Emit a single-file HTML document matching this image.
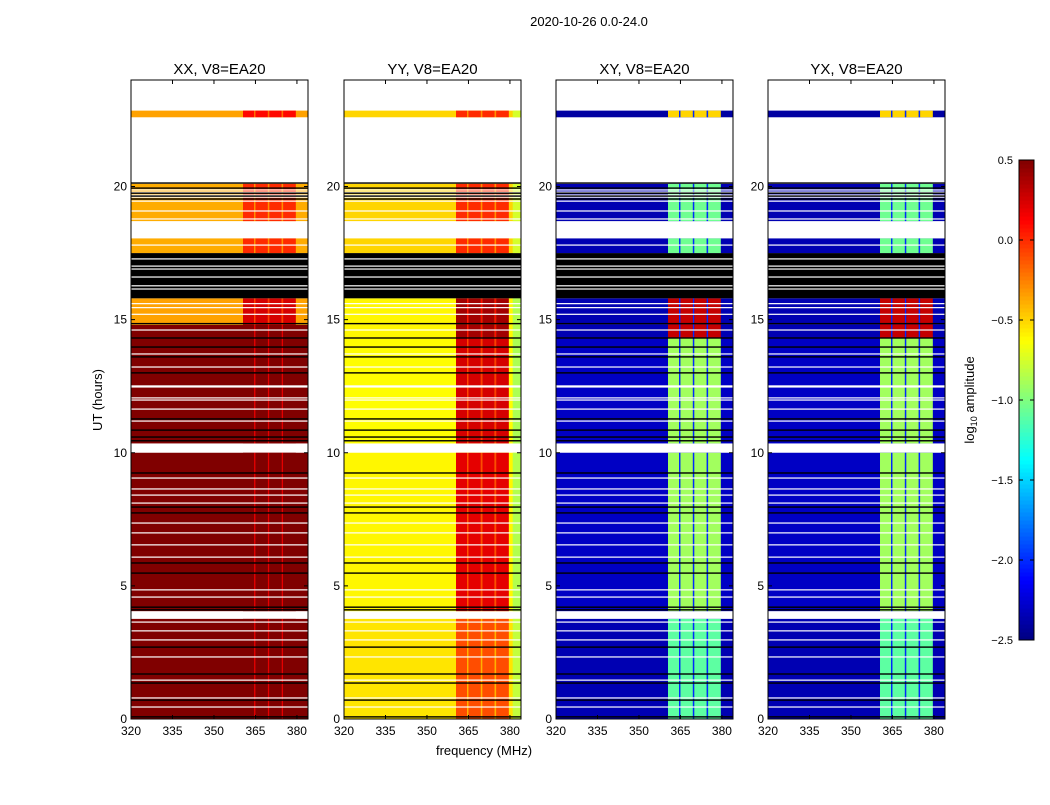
<!DOCTYPE html>
<html><head><meta charset="utf-8">
<style>
html,body{margin:0;padding:0;background:#fff;}
svg text{font-family:"Liberation Sans",sans-serif;fill:#000;}
</style></head>
<body>
<svg id="fig" width="1050" height="800" viewBox="0 0 1050 800" xmlns="http://www.w3.org/2000/svg">
<text x="589" y="26" font-size="13" text-anchor="middle">2020-10-26 0.0-24.0</text>
<text transform="translate(102,400) rotate(-90)" font-size="13" text-anchor="middle">UT (hours)</text>
<text x="484" y="755" font-size="13" text-anchor="middle">frequency (MHz)</text>
<g id="panels"></g>
<g id="cbar"></g>
<text transform="translate(974,400) rotate(-90)" font-size="13" text-anchor="middle">log<tspan font-size="9" dy="3">10</tspan><tspan dy="-3"> amplitude</tspan></text>
</svg>
<script>
// ---- data ----
const panelTitles = ["XX, V8=EA20","YY, V8=EA20","XY, V8=EA20","YX, V8=EA20"];
const xTicks = [320,335,350,365,380];
const yTicks = [0,5,10,15,20];
const cbTicks = [0.5,0.0,-0.5,-1.0,-1.5,-2.0,-2.5];
const cbTickLabels = ["0.5","0.0","\u22120.5","\u22121.0","\u22121.5","\u22122.0","\u22122.5"];
// time segments (hours)
const segStart = [0.0, 4.05, 10.35, 14.3, 14.8, 15.8, 17.5, 18.7, 22.6];
const segEnd   = [3.76, 10.0, 14.3, 14.8, 15.8, 17.5, 18.05, 20.1, 22.85];
const segFlag  = [0,0,0,0,0,1,0,0,0];
// baseline (off-band) log amplitude per panel per segment
const baseXX = [0.5, 0.5, 0.5, 0.5, -0.35, 0, -0.38, -0.38, -0.35];
const bandXX = [0.5, 0.5, 0.5, 0.5, 0.25, 0, 0.0, 0.0, 0.1];
const baseYY = [-0.55, -0.6, -0.62, -0.6, -0.6, 0, -0.5, -0.5, -0.5];
const bandYY = [-0.1, 0.2, 0.25, 0.4, 0.4, 0, 0.0, 0.0, 0.0];
const baseXY = [-2.35, -2.3, -2.3, -2.35, -2.35, 0, -2.35, -2.35, -2.4];
const bandXY = [-1.1, -0.9, -0.9, 0.3, 0.3, 0, -1.05, -1.05, -0.5];
const baseYX = [-2.35, -2.3, -2.3, -2.35, -2.35, 0, -2.35, -2.35, -2.4];
const bandYX = [-1.1, -0.9, -0.9, 0.3, 0.3, 0, -1.05, -1.05, -0.5];
// sub-band edges (MHz)
const subStart = [360.5, 365.0, 370.0, 375.0];
const subEnd   = [364.5, 369.5, 374.5, 379.6];
// thin flagged rows (hours)
const whiteLines = [0.45,0.79,1.46,2.33,2.97,3.31,3.64,4.58,4.85,6.08,6.54,6.99,7.36,8.11,8.41,8.64,9.05,
  11.19,11.64,11.98,12.06,12.47,12.51,13.22,13.71,14.61,15.2,15.45,15.6,16.15,16.27,16.6,16.9,17.01,17.28,
  17.8,18.78,19.08,19.45,19.6,19.68,19.79,19.87];
const blackLines = [0.08,0.71,1.35,1.69,2.7,4.1,4.2,5.48,5.86,7.74,7.96,9.24,10.45,10.59,10.85,11.27,
  13.0,13.6,13.97,14.31,14.85,19.53,19.64,19.75,19.94,20.13];

// ---- layout ----
const panelX = [131,344,556,768], PW=177, PT=80, PB=719;
const fMin=320, fMax=384, tMin=0, tMax=24;
function xs(p,f){return panelX[p]+(f-fMin)/(fMax-fMin)*PW;}
function ys(t){return PB-(t-tMin)/(tMax-tMin)*(PB-PT);}
function jet(v){
  let x=(v+2.5)/3; x=Math.max(0,Math.min(1,x));
  const c=t=>Math.round(255*Math.max(0,Math.min(1,t)));
  const r=c(1.5-Math.abs(4*x-3)), g=c(1.5-Math.abs(4*x-2)), b=c(1.5-Math.abs(4*x-1));
  return `rgb(${r},${g},${b})`;
}
const NS="http://www.w3.org/2000/svg";
function mk(tag,attrs,parent){const e=document.createElementNS(NS,tag);for(const k in attrs)e.setAttribute(k,attrs[k]);parent.appendChild(e);return e;}
const bases=[baseXX,baseYY,baseXY,baseYX], bands=[bandXX,bandYY,bandXY,bandYX];
const G=document.getElementById('panels');
for(let p=0;p<4;p++){
  const g=mk('g',{},G);
  
  
  for(let s=0;s<segStart.length;s++){
    const y0=ys(segEnd[s]), y1=ys(segStart[s]);
    if(segFlag[s]){
      const r=mk('rect',{x:panelX[p],y:y0,width:PW,height:y1-y0,fill:'#000'},g);
      
      
      continue;
    }
    const b=bases[p][s], bd=bands[p][s];
    const r=mk('rect',{x:panelX[p],y:y0,width:PW,height:y1-y0,fill:jet(b)},g);
    
    
    if(p==1){
      const e1=mk('rect',{x:xs(p,381),y:y0,width:xs(p,384)-xs(p,381),height:y1-y0,fill:jet(b-0.25)},g);
      
      
    }
    for(let k=0;k<subStart.length;k++){
      const c=mk('rect',{x:xs(p,subStart[k]),y:y0,width:xs(p,subEnd[k])-xs(p,subStart[k]),height:y1-y0,fill:jet(bd)},g);
      
      
      if(k<subStart.length-1){
        const gp=mk('rect',{x:xs(p,subEnd[k]),y:y0,width:xs(p,subStart[k+1])-xs(p,subEnd[k]),height:y1-y0,fill:jet(p>=2?Math.min(bd,-2.0):bd-0.3)},g);
        
        
      }
    }
  }
  for(const t of whiteLines){
    const l=mk('rect',{x:panelX[p],y:ys(t)-0.6,width:PW,height:1.2,fill:'#fff'},g);
    
    
  }
  for(const t of blackLines){
    const l=mk('rect',{x:panelX[p],y:ys(t)-0.7,width:PW,height:1.4,fill:'#000'},g);
    
    
  }
  const fr=mk('rect',{x:panelX[p],y:PT,width:PW,height:PB-PT,fill:'none',stroke:'#000','stroke-width':1},g);
  
  
  const tt=mk('text',{x:panelX[p]+PW/2,y:74,'font-size':15,'text-anchor':'middle'},g);
  tt.textContent=panelTitles[p];
  
  
  for(const f of xTicks){
    const x=xs(p,f);
    mk('line',{x1:x,x2:x,y1:PB,y2:PB-4,stroke:'#000'},g);
    mk('line',{x1:x,x2:x,y1:PT,y2:PT+4,stroke:'#000'},g);
    const tl=mk('text',{x:x,y:PB+16,'font-size':12,'text-anchor':'middle'},g);
    tl.textContent=f;
    
    
  }
  for(const t of yTicks){
    const y=ys(t);
    mk('line',{x1:panelX[p],x2:panelX[p]+4,y1:y,y2:y,stroke:'#000'},g);
    mk('line',{x1:panelX[p]+PW,x2:panelX[p]+PW-4,y1:y,y2:y,stroke:'#000'},g);
    const tl=mk('text',{x:panelX[p]-4,y:y+4,'font-size':12,'text-anchor':'end'},g);
    tl.textContent=t;
    
    
  }
}
// colorbar
const C=document.getElementById('cbar');
const CX=1019,CW=15,CT=160,CB=640,cMin=-2.5,cMax=0.5;
function cy(v){return CB-(v-cMin)/(cMax-cMin)*(CB-CT);}
const N=120;
for(let i=0;i<N;i++){
  const v=cMin+(i+0.5)*(cMax-cMin)/N;
  const r=mk('rect',{x:CX,y:cy(cMin+(i+1)*(cMax-cMin)/N),width:CW,height:(CB-CT)/N+0.5,fill:jet(v)},C);
  
  
}
mk('rect',{x:CX,y:CT,width:CW,height:CB-CT,fill:'none',stroke:'#000','stroke-width':1},C);
cbTicks.forEach((v,i)=>{
  const y=cy(v);
  mk('line',{x1:CX,x2:CX+4,y1:y,y2:y,stroke:'#000'},C);
  mk('line',{x1:CX+CW,x2:CX+CW-4,y1:y,y2:y,stroke:'#000'},C);
  const tl=mk('text',{x:1013,y:y+4,'font-size':11,'text-anchor':'end'},C);
  tl.textContent=cbTickLabels[i];
  
  
});
</script>
</body></html>
